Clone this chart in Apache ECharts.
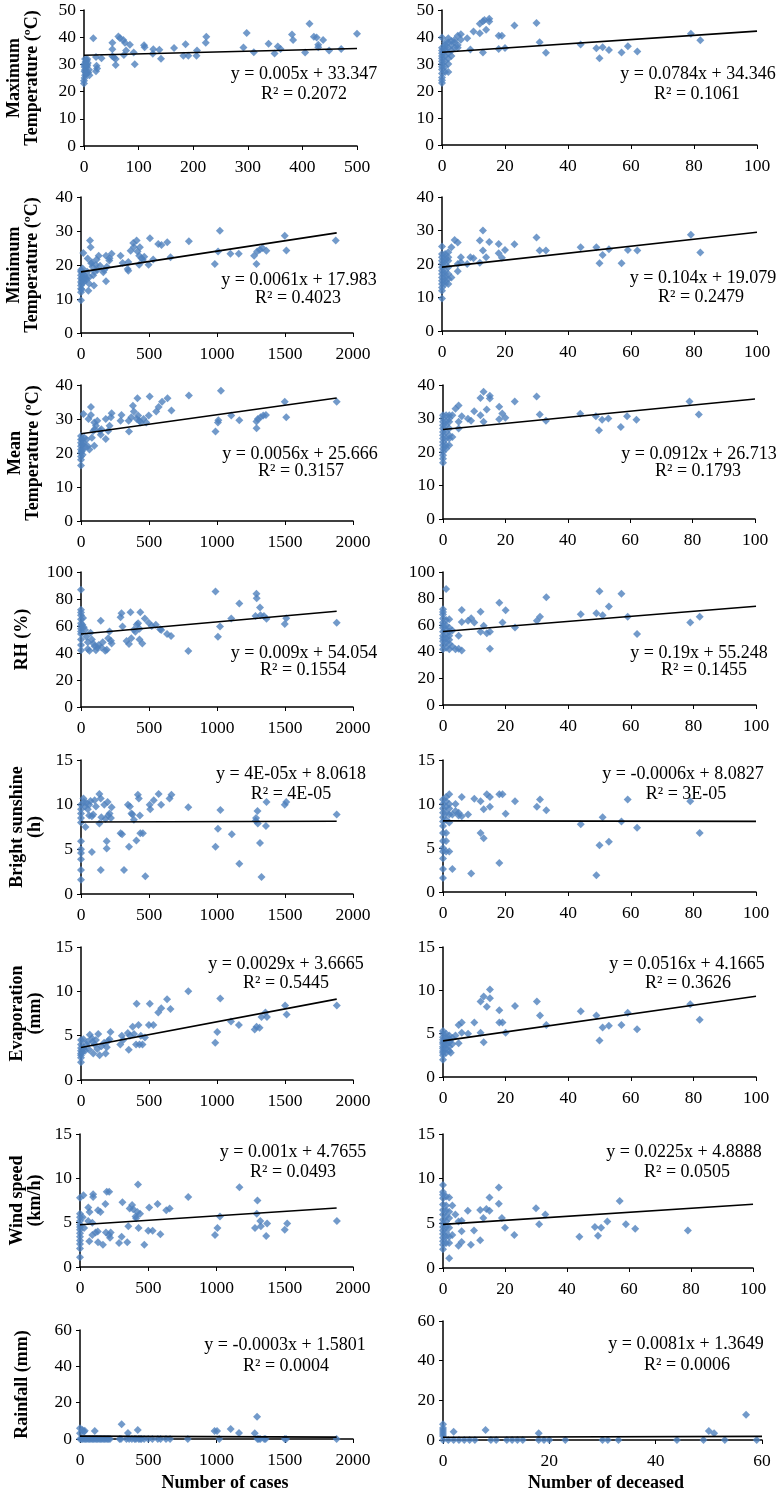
<!DOCTYPE html>
<html><head><meta charset="utf-8">
<script src="https://cdn.jsdelivr.net/npm/echarts/dist/echarts.min.js"></script>
<style>html,body{margin:0;padding:0;background:#fff}#c{width:776px;height:1495px}</style>
</head><body><div id="c"></div>
<script>
// ---------- DATA ----------
const maxTempCases = [[0,23],[0,24],[1,25],[2,26],[3,27],[2,28],[4,29],[5,30],[3,31],[6,32],[0,30],[1,29],[8,27],[10,26],[5,31.5],[7,30.5],[2,32],[9,28],[4,26.5],[1,27.5],[6,29.5],[3,30],
[17,39.6],[22,32.7],[23,29.5],[24,28.5],[22,27.5],[32,32.3],[52,38],[52,35.6],[52,33],[55,32.5],[58,32],[58,29.8],
[63,40.3],[66,39.6],[72,39],[75,38],[77,35.1],[73,33.5],[84,37.2],[91,34.4],[93,30.1],[110,37],[111,36.3],
[126,33.9],[127,35.6],[138,35.4],[141,32.1],[165,36],[182,33.2],[186,37.4],[191,33.2],[206,33.2],[207,35.1],
[223,38],[224,40.2],[292,36.2],[298,41.5],[311,34.5],[338,37.6],[349,34],[355,36.6],[360,35.7],
[381,41],[383,39],[405,34.4],[413,44.9],[421,40.2],[426,39.9],[429,37.2],[429,36.3],[438,39],[449,35.1],[471,35.7],[500,41.3]];
const maxTempDeaths = [[0,23],[0,24],[0,25],[0,26.5],[0,28],[0,29],[0,30],[0,31],[0,32],[0,33],[0,34],[0,35],[0,36],[0,39.8],
[1,27],[1,29],[1,31],[1,33],[1,35],[1,36],[1,37],[1,38],[2,27],[2,30],[2,32],[2,34],[2,36],[2,38],[2,39.5],
[3,33],[3,35],[3,37],[3,38.5],[4,36],[4,38],[4,39],[5,40.5],[5,37],[5,36],[6,41],[6,39],[8,39.5],[9,35.4],
[10,42],[12,41.4],[12,44.9],[13,45.8],[13.5,46.3],[13,34.3],[14,42.7],[15,46.8],[15,45.7],
[18,40.5],[19,40.5],[18,35.6],[20,35.9],[23,44.3],[30,45.2],[31,38.1],[33,34.2],[44,37.2],
[49,35.8],[50,32.1],[51,36.2],[53,35.2],[57,34.3],[59,36.6],[62,34.6],[79,41.2],[82,38.8]];
const minTempCases = [[0,9.6],[0,12],[0,13],[0,14],[0,15],[0,16],[0,17],[0,18],[0,18.5],[5,12.8],[5,14.5],[8,15.5],[10,16.5],[10,17.5],[12,19],[15,16],[17,23.5],[20,15],[25,17],[30,16.2],[35,15.5],
[40,16],[45,18],[49,21.9],[54,12.4],[60,14.5],[62,16.5],[66,27.2],[71,25.2],[75,20.5],[80,20.8],[85,19.5],[90,17],[95,14],[100,18],[110,20],[115,21.6],[120,18.5],[130,22.7],[140,19.8],
[164,17.9],[170,18.5],[184,15.2],[184,22.7],[190,19.5],[208,21.3],[210,22],[225,23.3],
[291,22.7],[306,20.6],[343,18.8],[348,18.3],[348,20.9],[365,24.2],[384,26.5],[389,25.3],[409,27.2],[416,24],[428,22.7],[428,20.1],[433,25.2],[445,22],[455,21.5],[465,22.4],[497,20.1],[507,27.9],[531,21.6],
[568,26.2],[592,25.9],[634,26.7],[658,22.3],[793,27],[984,20.3],[1008,24],[1021,30.1],[1099,23.3],[1160,23.3],
[1273,22.7],[1290,20.3],[1295,24],[1315,24.5],[1334,25],[1363,24.2],[1498,28.6],[1510,24.3],[1873,27.2]];
const minTempDeaths = [[0,9.7],[0,12],[0,13],[0,14],[0,15],[0,16],[0,17],[0,18],[0,19],[0,20],[0,21],[0,22],[0,23],[0,25.2],
[1,14],[1,15],[1,16],[1,17],[1,18],[1,20],[1,21],[1,22],[1,23],[2,14],[2,15.5],[2,17],[2,19],[2,21],[2,22],[2,23.5],
[3,25],[3,16],[4,27.2],[5,26.4],[5,20],[5,17.8],[6,22],[6,20.5],[8,20],[9,22],[10,21.7],[12,20.4],[12,27],[13,30],[13,24],[14,22],[15,26.6],[18,26],[18,23.2],[19,21.9],[20,24.2],[23,25.9],
[30,27.9],[31,24],[33,24],[44,25],[49,25],[50,20.2],[51,22.7],[53,24.4],[57,20.2],[59,24.2],[62,24],[79,28.7],[82,23.4]];
const meanTempCases = [[0,16.3],[0,18],[0,19],[0,20],[0,21],[0,22],[0,23],[0,24],[0,25],[5,20.5],[8,22.5],[10,24],[12,19.5],[15,21],[18,31.5],[20,23],[25,24.5],[30,22],
[40,24],[50,22],[55,30],[62,21],[73,31.2],[73,33.5],[80,24.5],[90,26.5],[98,22.1],[100,27],[98,29],[110,28],[120,29.5],[145,25.4],[140,26.5],[150,27],[182,24.1],[200,26.5],[182,30],[210,28],[225,31.7],[220,30.5],
[291,29.5],[298,31.2],[353,26.3],[350,29.5],[370,30.5],[382,33.9],[415,36.1],[389,32.2],[410,30],[420,31],[430,29.5],[440,29],[460,30],[480,29],[498,31],[505,36.6],[553,32.2],[571,33.5],[596,35.1],[636,36.1],[665,32.5],[793,36.9],
[989,26.3],[1007,29],[1010,29.6],[1029,38.3],[1105,31],[1164,29.6],[1291,27.3],[1290,29.3],[1300,30],[1320,30.5],[1340,31],[1360,31.2],[1498,35.1],[1509,30.5],[1880,35.1]];
const meanTempDeaths = [[0,16.8],[0,18],[0,19],[0,20],[0,21],[0,22],[0,23],[0,24],[0,25],[0,26],[0,27],[0,28],[0,29],[0,30],[0,31],
[1,21],[1,22],[1,24],[1,26],[1,28],[1,29],[1,31],[2,22],[2,24],[2,25],[2,27],[2,29],[2,30],[2,31],
[3,24.5],[3,31],[4,32.9],[5,33.9],[5,29],[5,27],[6,30.7],[8,29.9],[9,29.3],[10,32.2],[12,31],[12,36.1],[13,38],[13,29],[14,32.7],[15,36.8],[15,36],[18,33.5],[18,29.8],[19,31.5],[20,30.2],[23,35.1],[30,36.6],[31,31.2],[33,29.3],[44,31.4],[49,30.7],[50,26.5],[51,29.6],[53,30],[57,27.5],[59,30.7],[62,29.6],[79,35.1],[82,31.2]];
const rhCases = [[0,86.8],[0,72],[0,70],[0,68],[0,65],[0,62],[0,60],[0,58],[0,56],[0,54],[0,50],[0,46],[0,42],
[10,61],[15,66],[20,59],[30,57],[40,52],[50,48],[50,43],[62,41.7],[70,55],[80,50],[90,47],[100,45],[110,42],[120,44],[130,46],[145,63.8],[150,44],[160,48],[178,41.7],[190,42.5],[200,51],[210,56],[220,49],[225,47],
[291,66.5],[298,69.5],[305,59.6],[335,48.9],[353,46.7],[364,70.2],[370,51],[389,57.3],[400,55.8],[410,61],[420,62],[430,58],[430,50],[436,70.2],[451,47.1],[469,65.5],[498,62.5],[520,60],[550,61],[582,57.6],[590,57],[633,54],[662,52.6],[789,41.4],
[989,85.6],[1007,52.1],[1022,59.6],[1105,65.5],[1164,76.7],[1283,67.5],[1290,83.9],[1292,80.6],[1316,73.7],[1320,68],[1345,67.5],[1364,65.3],[1498,61.5],[1509,65.8],[1880,62.5]];
const rhDeaths = [[0,42],[0,45],[0,48],[0,50],[0,52],[0,55],[0,58],[0,60],[0,62],[0,65],[0,68],[0,70],[0,72],[1,87.3],
[1,43],[1,47],[1,50],[1,53],[1,57],[1,60],[1,64],[2,42],[2,46],[2,49],[2,52],[2,55],[2,58],[2,64.5],
[3,56],[3,44],[4,42],[5,52],[5,42.2],[6,71.5],[6,62.5],[6,41],[8,63.3],[9,65.3],[10,62],[12,70.2],[12,55],[13,59.6],[14,54],[15,55],[15,42.2],[18,76.9],[19,62],[20,71.2],[23,58.3],[30,63.3],[31,66.3],[33,81.1],[44,68.2],[49,69],[50,85.6],[51,67.5],[53,74],[57,83.6],[59,66.3],[62,53.3],[79,62],[82,66.3]];
const sunCases = [[0,1.6],[0,2.7],[0,3.9],[0,4.6],[0,5],[0,5.9],[0,8],[0,8.5],[0,9],[0,9.5],[0,10],[18,10.7],
[20,10.3],[30,9.8],[33,7.5],[40,10.2],[50,9.5],[60,10],[60,8.8],[70,10.4],[80,4.7],[80,8.7],[90,8.9],[100,10.5],[110,9.8],
[135,7.9],[135,11.2],[145,10.7],[145,2.7],[150,8.6],[171,10],[180,8.4],[196,10.3],[189,5.9],[189,5.1],[200,8.8],[225,9.7],[210,9],[220,8.5],
[291,6.8],[302,6.7],[316,2.7],[345,10],[353,5.3],[360,9.8],[371,9],[378,8.9],[389,8.3],[418,11.1],[425,10.7],[407,6],[433,8.8],[436,6.8],[455,6.8],[473,2],[505,10],[509,9.5],[535,10.5],[571,11.2],[589,10],[651,10.7],[665,11.1],[789,9.7],
[989,5.3],[1007,7.3],[1025,9.4],[1109,6.7],[1164,3.4],[1287,8.5],[1285,8.2],[1298,9.3],[1300,7.9],[1316,5.7],[1327,1.9],[1360,7.6],[1364,10.3],[1498,10],[1509,10.3],[1880,8.9]];
const sunDeaths = [[0,1.6],[0,2.6],[0,3.8],[0,4.6],[0,5],[0,5.8],[0,6.7],[0,7.5],[0,8],[0,8.5],[0,9],[0,9.5],[0,10],[0,10.5],
[1,4.6],[1,5.8],[1,6.7],[1,8.2],[1,9],[1,9.7],[1,10.3],[1,10.8],[2,4.6],[2,7.9],[2,8.8],[2,9.5],[2,10],[2,11.1],
[3,2.6],[3,8.8],[4,9.2],[4,10],[5,9],[5,8.7],[6,10.8],[6,8.6],[8,8.8],[9,2.1],[10,10.6],[12,10.3],[12,6.7],[13,6.1],[13,9.4],[14,11.1],[15,10.8],[15,9.7],[18,11.1],[19,11.1],[18,3.3],[20,8.9],[23,10.3],[30,9.7],[31,10.5],[33,9.3],[44,7.7],[49,1.9],[50,5.3],[51,8.5],[53,5.7],[57,8],[59,10.5],[62,7.3],[79,10.3],[82,6.7]];
const evapCases = [[0,2],[0,2.5],[0,2.8],[0,3],[0,3.3],[0,3.6],[0,4],[0,4.5],[10,3.2],[18,4.6],[20,3.6],[30,3.3],[40,4],[50,4.3],[60,3.4],[65,5.1],[80,4.7],[85,4.3],[90,3],[100,4],[110,4.5],[120,3.5],[127,5.2],[137,2.8],[150,3.8],[170,4.2],[181,3],[190,3.7],[199,4.4],[210,4.6],[217,5.4],
[289,4],[300,5],[310,4.5],[344,5.3],[351,3.4],[360,5],[380,6],[390,5.2],[409,8.6],[405,4],[423,6.2],[430,4],[440,5],[452,4],[470,4.8],[499,6.2],[506,8.6],[532,6.2],[568,7.6],[590,8.1],[633,9.1],[658,8],[789,10],
[987,4.2],[1002,5.4],[1024,9.2],[1103,6.6],[1161,6.2],[1277,5.7],[1291,6],[1313,5.9],[1327,7.1],[1356,7.6],[1367,7.1],[1501,8.4],[1512,7.4],[1881,8.4]];
const evapDeaths = [[0,2],[0,2.5],[0,2.8],[0,3],[0,3.3],[0,3.5],[0,3.8],[0,4],[0,4.3],[0,4.6],[0,5],[0,5.3],
[1,2.8],[1,3.3],[1,3.7],[1,4],[1,4.5],[1,5],[2,3],[2,3.5],[2,4],[2,4.4],[2,4.8],
[2.5,2.8],[3,3.8],[3,4.5],[4,4.8],[5,3.9],[5,6],[6,6.3],[6,5.1],[8,5],[10,6.3],[12,8.7],[12,5.1],[13,9.3],[13,4],[14,8.1],[15,10.1],[15,9.1],[18,7.7],[18,6.3],[19,6.3],[20,5.1],[23,8.2],[30,8.7],[31,7.1],[33,6],[44,7.6],[49,7.1],[50,4.2],[51,5.7],[53,5.9],[57,6],[59,7.4],[62,5.5],[79,8.4],[82,6.6]];
const windCases = [[0,1.1],[0,2.1],[0,2.6],[0,3],[0,3.4],[0,3.8],[0,4.2],[0,4.5],[0,4.8],[0,5.2],[0,5.6],[0,6],[0,7.8],[25,8.1],[20,5.6],[30,4.4],[61,6.7],[68,2.9],[60,5.2],[70,6.2],[96,8.2],[96,7.9],[90,5],[90,3.6],[114,3.9],[132,6.4],[132,2.8],[130,4],[150,6.2],[168,2.5],[186,7.1],[190,3.9],[196,8.5],[214,8.5],[213,3.6],[220,3.3],[225,3.9],
[286,2.7],[311,7.3],[305,3.4],[346,2.8],[354,4.6],[364,6.6],[382,7],[390,6.5],[407,5.7],[411,5.5],[425,9.3],[420,6.2],[429,4.4],[440,6],[471,2.5],[507,6.7],[500,4.1],[532,4.1],[568,7.1],[589,3.7],[632,6.4],[657,6.6],[793,7.9],
[989,3.6],[1007,4.4],[1025,5.7],[1168,9],[1282,4.4],[1300,7.5],[1295,6],[1321,5.2],[1325,4.6],[1371,4.9],[1364,3.5],[1500,4.2],[1518,4.9],[1882,5.2]];
const windDeaths = [[0,2.1],[0,2.6],[0,3],[0,3.4],[0,3.8],[0,4.2],[0,4.6],[0,5],[0,5.4],[0,6],[0,6.5],[0,7.1],[0,7.8],[0,8.2],[0,8.5],[0,9.3],
[1,2.8],[1,3.5],[1,4],[1,4.6],[1,5.2],[1,5.8],[1,6.4],[1,7],[1,8],[2,1.1],[2,7.9],[2,2.8],[2,3.5],[2,4.5],[2,5.6],[2,6.3],
[3,7],[3,3.7],[4,6],[5,2.5],[5,5.2],[6,2.9],[6,4.1],[6,5.3],[8,6.4],[9,2.6],[10,4.2],[12,3.1],[12,6.5],[13,5.6],[14,6.6],[15,6.4],[15,7.9],[18,9],[18,7.2],[19,5.6],[20,4.5],[23,3.7],[30,6.7],[31,4.9],[33,6],[44,3.5],[49,4.6],[50,3.6],[51,4.5],[53,5.2],[57,7.5],[59,4.9],[62,4.4],[79,4.2]];
const rainCases = [[0,0],[0,3.1],[0,5.9],[18,5],[29,4],[35,4.5],[108,4.4],[305,8.1],[351,3.3],[423,5],[986,4.4],[1004,4.4],[1104,5.5],[1165,3.3],[1280,3.1],[1297,12.3],
[10,0],[20,0],[30,0],[40,0],[50,0],[60,0],[70,0],[80,0],[90,0],[100,0],[110,0],[120,0],[130,0],[140,0],[150,0],[160,0],[170,0],[180,0],[190,0],[200,0],[210,0],[220,0],[290,0],[300,0],[340,0],[360,0],[380,0],[400,0],[410,0],[430,0],[440,0],[450,0],[470,0],[500,0],[530,0],[570,0],[590,0],[630,0],[660,0],[790,0],[1020,0],[1300,0],[1310,0],[1320,0],[1350,0],[1360,0],[1500,0],[1510,0],[1880,0]];
const rainDeaths = [[0,0],[0,2],[0,3],[0,4],[0,5],[0,6],[0,7.9],[2,4.2],[8,5.1],[18,3.4],[50,4.6],[51,3.4],[57,12.7],
[1,0],[2,0],[3,0],[4,0],[5,0],[6,0],[9,0],[10,0],[12,0],[13,0],[14,0],[15,0],[18,0],[19,0],[20,0],[23,0],[30,0],[31,0],[33,0],[44,0],[49,0],[53,0],[59,0]];

// trend lines: [slope, intercept, x end]
const trendLines = [[0.005,33.347,500],[0.0784,34.346,100],[0.0061,17.983,1880],[0.104,19.079,100],
[0.0056,25.666,1880],[0.0912,26.713,100],[0.009,54.054,1880],[0.19,55.248,100],
[0.00004,8.0618,1880],[-0.0006,8.0827,100],[0.0029,3.6665,1880],[0.0516,4.1665,100],
[0.001,4.7655,1880],[0.0225,4.8888,100],[-0.0003,1.5801,1880],[0.0081,1.3649,60]];
const equations = ['y = 0.005x + 33.347','y = 0.0784x + 34.346','y = 0.0061x + 17.983','y = 0.104x + 19.079',
'y = 0.0056x + 25.666','y = 0.0912x + 26.713','y = 0.009x + 54.054','y = 0.19x + 55.248',
'y = 4E-05x + 8.0618','y = -0.0006x + 8.0827','y = 0.0029x + 3.6665','y = 0.0516x + 4.1665',
'y = 0.001x + 4.7655','y = 0.0225x + 4.8888','y = -0.0003x + 1.5801','y = 0.0081x + 1.3649'];
const rSquared = ['R² = 0.2072','R² = 0.1061','R² = 0.4023','R² = 0.2479','R² = 0.3157','R² = 0.1793','R² = 0.1554','R² = 0.1455',
'R² = 4E-05','R² = 3E-05','R² = 0.5445','R² = 0.3626','R² = 0.0493','R² = 0.0505','R² = 0.0004','R² = 0.0006'];
const yTitles = ['Maximum\nTemperature (ºC)','Minimum\nTemperature (ºC)','Mean\nTemperature (ºC)','RH (%)','Bright sunshine\n(h)','Evaporation\n(mm)','Wind speed\n(km/h)','Rainfall (mm)'];
const xTitles = ['Number of cases','Number of deceased'];
// axis ranges [min,max,interval]
const xRanges = [[0,500,100],[0,100,20],[0,2000,500],[0,100,20],[0,2000,500],[0,100,20],[0,2000,500],[0,100,20],
[0,2000,500],[0,100,20],[0,2000,500],[0,100,20],[0,2000,500],[0,100,20],[0,2000,500],[0,60,20]];
const yRanges = [[0,50,10],[0,40,10],[0,40,10],[0,100,20],[0,15,5],[0,15,5],[0,15,5],[0,60,20]];
const seriesData = [maxTempCases,maxTempDeaths,minTempCases,minTempDeaths,meanTempCases,meanTempDeaths,rhCases,rhDeaths,
sunCases,sunDeaths,evapCases,evapDeaths,windCases,windDeaths,rainCases,rainDeaths];

// ---------- LAYOUT ----------
const rowBox = [[10,146],[197,333],[385,521],[572,707],[760,894],[947,1080],[1134,1267],[1330,1439]];
const rowBoxR = [[10,145],[197,331],[385,519],[572,705],[760,892],[947,1077],[1134,1268],[1321,1440]];
const leftX = [[84,357],[81,353],[81,353],[81,353],[81,353],[81,353],[80,353],[80,353]];
const rightX = [[442,757],[442,757],[443,755],[443,756],[443,756],[443,756],[443,753],[443,762]];
const eqPos = [[304,74,304,94],[698,74,697,94],[299,280,298,298],[703,278,701,297],[300,454,301,471],[699,454,698,471],
[304,653,303,670],[699,653,704,670],[291,774,291,794],[683,774,686,794],[286,964,286,983],[687,964,688,983],
[293,1152,293,1172],[684,1152,687,1172],[285,1345,286,1366],[686,1344,687,1365]];
const titleX = [23,23,24,22,26,26,26,22];

const FONT = '"Liberation Serif","Times New Roman",serif';
const grids=[],xAxes=[],yAxes=[],series=[],graphics=[];
for(let i=0;i<16;i++){
  const r=Math.floor(i/2), c=i%2;
  const xb = c===0?leftX[r]:rightX[r];
  const yb = c===0?rowBox[r]:rowBoxR[r];
  grids.push({left:xb[0],top:yb[0],width:xb[1]-xb[0],height:yb[1]-yb[0],containLabel:false,outerBoundsMode:'none'});
  const mk = (margin)=>({
    type:'value', gridIndex:i, splitLine:{show:false},
    axisLine:{show:true,onZero:false,lineStyle:{color:'#000',width:1.5}},
    axisTick:{show:true,inside:false,length:4,lineStyle:{color:'#000',width:1}},
    axisLabel:{color:'#000',fontFamily:FONT,fontSize:17.5,margin:margin,showMinLabel:true,showMaxLabel:true,
      formatter:(v)=>String(v)}
  });
  const xr=xRanges[i], yr=yRanges[r];
  xAxes.push(Object.assign(mk(12),{min:xr[0],max:xr[1],interval:xr[2]}));
  yAxes.push(Object.assign(mk(8),{min:yr[0],max:yr[1],interval:yr[2]}));
  series.push({type:'scatter',xAxisIndex:i,yAxisIndex:i,data:seriesData[i],symbol:'diamond',symbolSize:8,
    itemStyle:{color:'#4F81BD'},z:2,silent:true});
  const t=trendLines[i];
  series.push({type:'line',xAxisIndex:i,yAxisIndex:i,data:[[0,t[1]],[t[2],t[1]+t[0]*t[2]]],showSymbol:false,
    lineStyle:{color:'#000',width:1.6},z:3,silent:true});
  const p=eqPos[i];
  graphics.push({type:'text',x:p[0],y:p[1],z:10,style:{text:equations[i],textAlign:'center',textVerticalAlign:'middle',fontFamily:FONT,fontSize:18,fill:'#000'}});
  graphics.push({type:'text',x:p[2],y:p[3],z:10,style:{text:rSquared[i],textAlign:'center',textVerticalAlign:'middle',fontFamily:FONT,fontSize:18,fill:'#000'}});
}
for(let r=0;r<8;r++){
  const yb=rowBox[r];
  graphics.push({type:'text',x:titleX[r],y:(yb[0]+yb[1])/2,rotation:Math.PI/2,z:10,
    style:{text:yTitles[r],textAlign:'center',textVerticalAlign:'middle',fontFamily:FONT,fontSize:18,fontWeight:'bold',fill:'#000',lineHeight:18}});
}
graphics.push({type:'text',x:225,y:1483,style:{text:xTitles[0],textAlign:'center',textVerticalAlign:'middle',fontFamily:FONT,fontSize:18,fontWeight:'bold',fill:'#000'}});
graphics.push({type:'text',x:606,y:1483,style:{text:xTitles[1],textAlign:'center',textVerticalAlign:'middle',fontFamily:FONT,fontSize:18,fontWeight:'bold',fill:'#000'}});

const chart = echarts.init(document.getElementById('c'),null,{renderer:'canvas'});
chart.setOption({animation:false,backgroundColor:'#fff',grid:grids,xAxis:xAxes,yAxis:yAxes,series:series,graphic:graphics});
</script></body></html>
